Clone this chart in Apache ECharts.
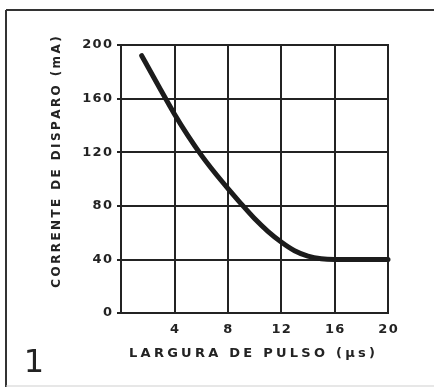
<!DOCTYPE html>
<html>
<head>
<meta charset="utf-8">
<script src="https://cdn.jsdelivr.net/npm/echarts@6/dist/echarts.min.js"></script>
<style>
  html, body { margin: 0; padding: 0; background: #ffffff; }
  #chart { width: 434px; height: 388px; }
</style>
</head>
<body>
<div id="chart"></div>
<script>
// Trigger current vs. pulse width
const pulseWidth = [1.55, 2, 3, 4, 5, 6, 7, 8, 9, 10, 11, 12, 13, 14, 15, 16, 18, 20];
const triggerCurrent = [192, 184, 166, 148.5, 132.5, 118, 105, 93, 81.5, 70.5, 61, 53, 46.5, 42.5, 40.5, 40, 40, 40];
const xTicks = [0, 4, 8, 12, 16, 20];
const yTicks = [0, 40, 80, 120, 160, 200];
const xTitle = 'LARGURA DE PULSO (µs)';
const yTitle = 'CORRENTE DE DISPARO (mA)';
const figureNumber = '1';

const ink = '#232323';
const font = '"DejaVu Sans", sans-serif';

// spread the letters of a caption apart
function spaced(s, gap) {
  return s.split('').join(gap);
}

const chart = echarts.init(document.getElementById('chart'), null, { renderer: 'canvas' });

chart.setOption({
  animation: false,
  backgroundColor: '#ffffff',
  grid: {
    left: 121, right: 46, top: 45, bottom: 75,
    show: true, borderColor: ink, borderWidth: 2
  },
  xAxis: {
    type: 'value',
    min: xTicks[0], max: xTicks[xTicks.length - 1], interval: 4,
    axisLine: { show: true, lineStyle: { color: ink, width: 2 } },
    axisTick: { show: false },
    splitLine: { show: true, lineStyle: { color: ink, width: 2 } },
    axisLabel: {
      margin: 10, color: ink, fontFamily: font, fontSize: 13, fontWeight: 'bold',
      formatter: v => (v === 0 ? '' : spaced(String(v), '\u200a'))
    }
  },
  yAxis: {
    type: 'value',
    min: yTicks[0], max: yTicks[yTicks.length - 1], interval: 40,
    axisLine: { show: true, lineStyle: { color: ink, width: 2 } },
    axisTick: { show: true, length: 4, lineStyle: { color: ink, width: 2 } },
    splitLine: { show: true, lineStyle: { color: ink, width: 2 } },
    axisLabel: {
      margin: 9, color: ink, fontFamily: font, fontSize: 13, fontWeight: 'bold',
      formatter: v => spaced(String(v), '\u200a')
    }
  },
  series: [{
    type: 'line',
    data: pulseWidth.map((x, i) => [x, triggerCurrent[i]]),
    smooth: 0.25,
    showSymbol: false,
    lineStyle: { color: '#1c1c1c', width: 5, cap: 'round', join: 'round' },
    z: 5
  }],
  graphic: [
    // outer frame of the figure
    { type: 'line', shape: { x1: 6, y1: 10, x2: 434, y2: 10 }, style: { stroke: '#333', lineWidth: 2 } },
    { type: 'line', shape: { x1: 6, y1: 10, x2: 6, y2: 387 }, style: { stroke: '#333', lineWidth: 2 } },
    { type: 'line', shape: { x1: 6, y1: 386, x2: 434, y2: 386 }, style: { stroke: '#cfcfcf', lineWidth: 1 } },
    {
      type: 'text', x: 252, y: 354,
      style: {
        text: spaced(xTitle, '\u2005'), fill: ink, font: 'bold 13px ' + font,
        textAlign: 'center', textVerticalAlign: 'middle'
      }
    },
    {
      type: 'text', x: 57, y: 162, rotation: Math.PI / 2,
      style: {
        text: spaced(yTitle, '\u2009'), fill: ink, font: 'bold 12px ' + font,
        textAlign: 'center', textVerticalAlign: 'middle'
      }
    },
    {
      type: 'text', x: 34, y: 364,
      style: {
        text: figureNumber, fill: ink, font: '32px ' + font,
        textAlign: 'center', textVerticalAlign: 'middle'
      }
    }
  ]
});
</script>
</body>
</html>
